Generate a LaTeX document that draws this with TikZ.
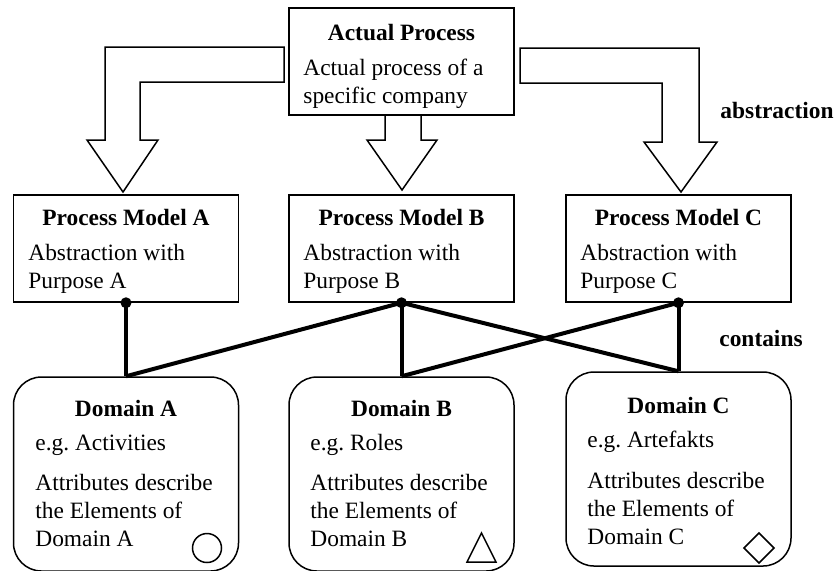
\documentclass[tikz,border=0pt]{standalone}
\usepackage{fontspec}
\setmainfont{Liberation Serif}

\begin{document}
\begin{tikzpicture}[x=0.5pt, y=-0.5pt,
  font=\fontsize{11.7}{14}\selectfont,
  pbox/.style={draw, line width=0.75pt, minimum width=112.5pt, minimum height=53.5pt, inner sep=0},
  dbox/.style={pbox, rounded corners=14pt, minimum height=97pt},
  txt/.style={align=left, inner sep=0, anchor=west},
  ttl/.style={font=\fontsize{11.7}{14}\selectfont\bfseries, inner sep=0},
  bigarrow/.style={draw, line width=0.75pt, line join=miter},
  link/.style={line width=2pt},
  dot/.style={circle, fill, inner sep=0, minimum size=5.5pt}]
  \useasboundingbox (0,0) rectangle (834,570);

  % boxes
  \node [pbox] (actual) at (401.5,61.5) {};
  \node [pbox] (pmA) at (126,248.5) {};
  \node [pbox] (pmB) at (401.5,248.5) {};
  \node [pbox] (pmC) at (678.5,248.5) {};
  \node [dbox] (domA) at (126,474) {};
  \node [dbox] (domB) at (401.5,474) {};
  \node [dbox] (domC) at (678.5,469) {};

  % texts
  \node [ttl] (actualT) at (401.5,33) {Actual Process};
  \node [txt] (actualX) at (303,83.5) {Actual process of a\\specific company};
  \node [ttl] (pmAT) at (126,217) {Process Model A};
  \node [txt] (pmAX) at (28,269) {Abstraction with\\Purpose A};
  \node [ttl] (pmBT) at (401.5,217) {Process Model B};
  \node [txt] (pmBX) at (303,269) {Abstraction with\\Purpose B};
  \node [ttl] (pmCT) at (678.5,217) {Process Model C};
  \node [txt] (pmCX) at (580,269) {Abstraction with\\Purpose C};
  \node [ttl] (domAT) at (126,408) {Domain A};
  \node [txt] (domAE) at (35,445) {e.g.\ Activities};
  \node [txt] (domAX) at (35,510) {Attributes describe\\the Elements of\\Domain A};
  \node [ttl] (domBT) at (401.5,408) {Domain B};
  \node [txt] (domBE) at (310,445) {e.g.\ Roles};
  \node [txt] (domBX) at (310,510) {Attributes describe\\the Elements of\\Domain B};
  \node [ttl] (domCT) at (678.5,405) {Domain C};
  \node [txt] (domCE) at (587,442) {e.g.\ Artefakts};
  \node [txt] (domCX) at (587,508) {Attributes describe\\the Elements of\\Domain C};
  \node [ttl] (abstr) at (777,110) {abstraction};
  \node [ttl] (cont) at (761,338) {contains};

  % abstraction arrows
  \draw [bigarrow] (284,47) -- (105,47) -- (105,140) -- (87,140) -- (123,192)
    -- (158,140) -- (140,140) -- (140,82) -- (284,82) -- cycle;
  \draw [bigarrow] (385,115) -- (385,140) -- (367,140) -- (402,190)
    -- (437,140) -- (421,140) -- (421,115);
  \draw [bigarrow] (520,48) -- (699,48) -- (699,142) -- (717,142) -- (681,192)
    -- (644,142) -- (662,142) -- (662,83) -- (520,83) -- cycle;

  % contains links
  \draw [link] (pmA.south) -- (domA.north);
  \draw [link] (pmB.south) -- (domA.north);
  \draw [link] (pmB.south) -- (domB.north);
  \draw [link] (pmB.south) -- (domC.north);
  \draw [link] (pmC.south) -- (domC.north);
  \draw [link] (pmC.south) -- (domB.north);
  \node [dot] (dotA) at (pmA.south) {};
  \node [dot] (dotB) at (pmB.south) {};
  \node [dot] (dotC) at (pmC.south) {};

  % element marks
  \draw [line width=0.75pt] (207,548) circle [radius=7.25pt];
  \draw [line width=0.75pt] (467,562) -- (496,562) -- (481.5,533) -- cycle;
  \draw [line width=0.75pt] (744,548) -- (759,533) -- (774,548) -- (759,563) -- cycle;
\end{tikzpicture}
\end{document}
